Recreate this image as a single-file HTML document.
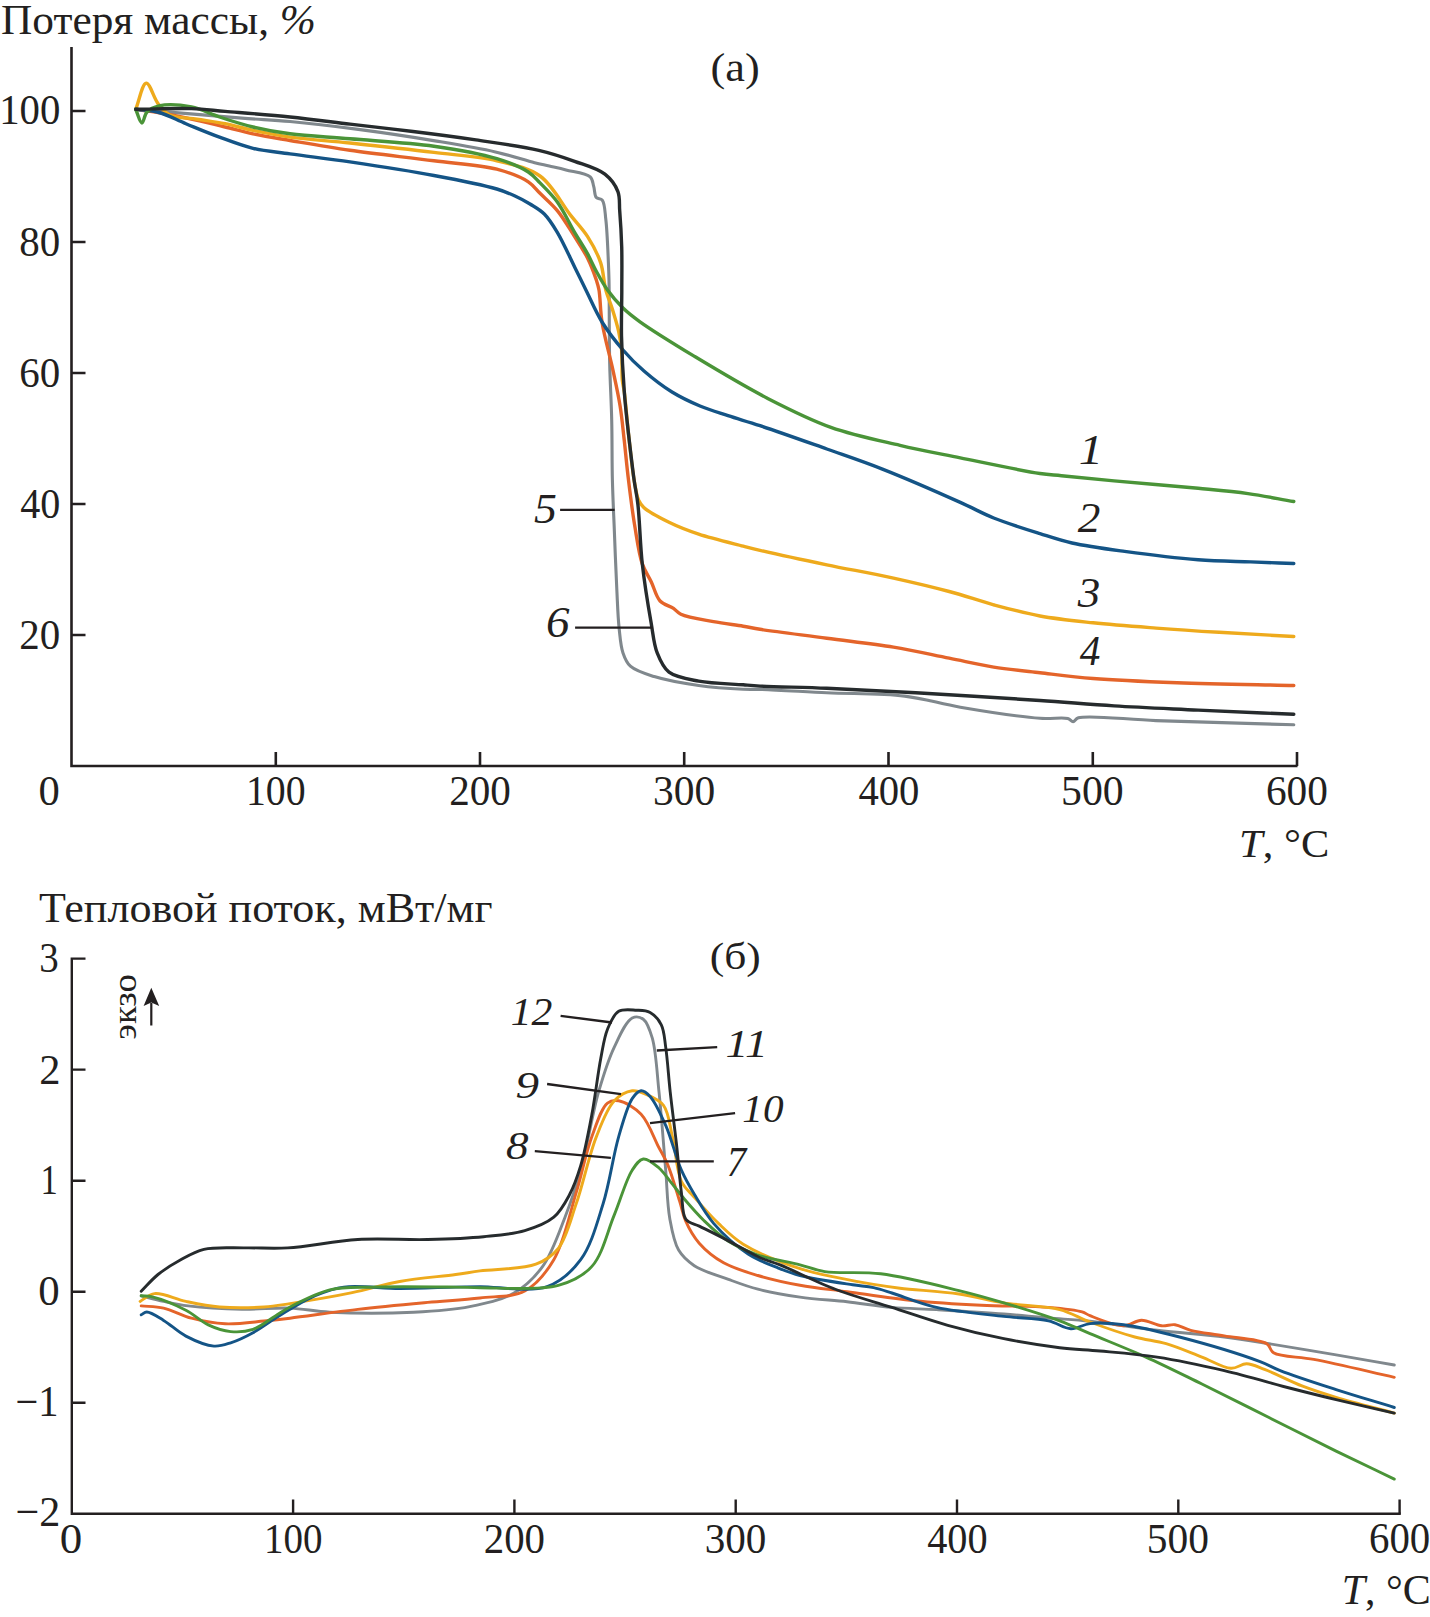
<!DOCTYPE html><html><head><meta charset="utf-8"><style>html,body{margin:0;padding:0;background:#fff;width:1430px;height:1617px;overflow:hidden}svg{display:block}</style></head><body>
<svg width="1430" height="1617" viewBox="0 0 1430 1617">
<rect width="1430" height="1617" fill="#fff"/>
<path d="M71.5,47 V766 H1297.5" fill="none" stroke="#231f20" stroke-width="2.6" stroke-linejoin="miter"/>
<path d="M71.5,111.0 H85.5 M71.5,242.0 H85.5 M71.5,373.0 H85.5 M71.5,504.0 H85.5 M71.5,635.0 H85.5 M275.8,766 V752 M480.0,766 V752 M684.2,766 V752 M888.5,766 V752 M1092.8,766 V752 M1297.0,766 V752 " fill="none" stroke="#231f20" stroke-width="2.6"/>
<path d="M85.5,958.6 H71.8 V1513.8 H1400.8" fill="none" stroke="#231f20" stroke-width="2.4" stroke-linejoin="miter"/>
<path d="M71.8,1069.6 H85.5 M71.8,1180.7 H85.5 M71.8,1291.7 H85.5 M71.8,1402.8 H85.5 M293.1,1513.8 V1499.5 M514.4,1513.8 V1499.5 M735.7,1513.8 V1499.5 M957.0,1513.8 V1499.5 M1178.3,1513.8 V1499.5 M1399.6,1513.8 V1499.5 " fill="none" stroke="#231f20" stroke-width="2.4"/>
<path d="M135.7,109.3 C171.1,112.2 213.4,115.9 241.9,118.1 C261.1,119.6 272.6,119.9 290.0,121.5 C310.8,123.4 334.8,126.3 358.3,129.4 C383.5,132.7 412.4,137.1 436.6,141.1 C457.6,144.6 477.9,147.9 495.4,151.9 C509.9,155.2 524.7,160.2 534.6,162.7 C540.7,164.2 544.2,164.9 549.3,166.1 C554.7,167.3 559.9,168.3 566.0,169.9 C573.3,171.8 585.9,172.8 590.2,176.8 C592.9,179.3 592.7,183.0 593.7,186.4 C594.8,190.0 594.4,195.3 596.3,197.6 C597.7,199.3 600.8,198.3 602.3,200.2 C604.9,203.5 604.9,211.6 605.8,219.3 C607.2,230.8 607.9,251.4 608.4,262.6 C608.7,269.7 608.8,272.0 609.0,280.0 C609.4,297.5 609.1,338.8 609.7,363.9 C610.2,384.5 611.3,400.9 611.7,419.9 C612.2,439.6 611.9,461.5 612.4,480.0 C612.8,495.9 613.4,508.2 614.1,524.5 C614.9,544.5 615.9,572.3 616.9,591.3 C617.6,605.4 617.9,617.0 619.1,628.0 C620.1,637.1 620.6,646.1 623.0,652.9 C624.8,658.2 626.4,662.5 630.4,666.2 C635.7,671.0 644.9,673.7 654.2,676.6 C666.6,680.5 683.8,683.4 698.7,685.5 C713.5,687.6 731.9,688.7 743.2,689.2 C750.1,689.5 752.5,689.2 760.0,689.4 C774.9,689.9 803.7,691.6 826.8,692.7 C851.8,693.9 881.0,693.2 904.7,696.1 C924.9,698.5 940.0,703.8 960.3,707.2 C984.4,711.3 1020.2,716.9 1040.0,718.3 C1051.6,719.1 1062.3,717.0 1067.8,718.5 C1070.4,719.2 1071.4,721.7 1073.1,721.6 C1074.9,721.5 1075.3,718.7 1078.4,717.8 C1088.9,714.6 1126.5,719.6 1156.1,720.6 C1195.5,721.9 1247.9,723.4 1293.8,724.8" fill="none" stroke="#80888d" stroke-width="3.1" stroke-linecap="round" stroke-linejoin="round"/>
<path d="M135.7,109.3 C143.1,110.4 149.6,111.1 158.0,112.5 C169.2,114.4 185.2,117.7 197.1,120.3 C207.2,122.5 215.8,124.7 225.1,127.0 C234.4,129.2 243.0,131.7 253.0,133.8 C264.4,136.2 276.2,138.1 290.0,140.5 C307.6,143.5 328.3,147.2 350.0,150.3 C375.6,154.0 408.0,157.4 433.9,160.8 C456.4,163.7 479.6,164.7 496.8,169.2 C509.3,172.5 520.7,176.8 528.3,181.8 C533.6,185.3 535.7,189.1 540.0,193.3 C545.2,198.5 551.8,203.9 557.3,210.6 C563.5,218.1 569.3,228.3 574.6,236.6 C579.3,244.1 583.9,250.8 587.6,258.2 C591.1,265.3 594.3,274.0 596.3,279.9 C597.6,283.9 598.2,285.6 599.0,290.0 C600.4,297.6 600.1,310.3 602.0,322.0 C604.3,336.6 609.9,355.9 613.1,370.9 C615.8,383.5 618.2,394.2 620.1,405.9 C622.0,417.5 622.9,428.8 624.3,440.8 C625.7,453.5 626.8,466.4 628.5,480.0 C630.3,494.9 632.4,512.1 634.9,526.8 C637.1,539.9 638.9,554.0 642.3,563.9 C644.8,571.1 648.3,575.6 651.2,581.7 C654.2,588.0 655.9,596.5 660.1,601.0 C663.7,604.8 669.8,605.9 673.5,608.4 C676.4,610.4 677.3,612.6 680.9,614.3 C687.7,617.6 702.9,619.7 713.5,621.7 C723.6,623.6 734.7,624.8 743.2,626.2 C749.6,627.3 752.5,628.1 760.0,629.3 C774.9,631.7 804.5,635.2 826.8,638.2 C849.0,641.2 872.3,643.6 893.5,647.1 C913.0,650.3 931.7,654.7 949.2,658.2 C964.9,661.3 978.7,664.7 993.7,667.1 C1008.9,669.5 1024.0,670.9 1040.0,672.7 C1057.1,674.7 1073.4,676.9 1093.1,678.5 C1117.9,680.5 1146.8,681.6 1177.1,682.7 C1212.8,684.0 1254.9,684.6 1293.8,685.5" fill="none" stroke="#e4642a" stroke-width="3.4" stroke-linecap="round" stroke-linejoin="round"/>
<path d="M135.7,109.3 C139.2,100.6 142.3,83.4 146.2,83.1 C149.8,82.8 153.7,98.0 158.0,103.6 C161.5,108.1 164.1,112.1 169.2,114.7 C176.0,118.2 187.8,117.7 197.1,119.2 C206.4,120.7 215.8,121.8 225.1,123.7 C234.4,125.6 243.0,128.3 253.0,130.4 C264.4,132.8 276.1,135.2 290.0,137.1 C307.6,139.5 328.3,140.7 350.0,143.0 C375.6,145.7 408.0,149.2 433.9,152.4 C456.4,155.2 478.0,156.3 496.8,160.8 C512.8,164.6 527.9,167.3 540.0,176.0 C552.6,185.0 561.6,203.8 570.3,214.9 C576.8,223.2 582.6,228.8 587.6,236.6 C592.7,244.6 597.6,253.6 600.6,262.6 C603.6,271.4 603.6,281.9 605.8,290.0 C607.6,296.7 610.0,301.6 612.0,308.0 C614.3,315.3 617.1,324.3 618.7,331.7 C620.1,338.1 621.0,343.1 621.6,350.0 C622.4,358.7 621.6,372.3 622.3,380.0 C622.8,384.9 623.6,386.8 624.3,392.0 C625.6,401.7 626.9,419.7 628.5,434.0 C630.2,449.0 632.0,467.9 634.1,480.0 C635.5,488.1 636.3,495.1 638.5,500.0 C640.0,503.3 641.0,504.9 643.8,507.5 C648.8,512.1 660.1,517.9 669.0,522.3 C678.3,526.9 687.7,530.5 698.7,534.2 C711.9,538.6 731.9,543.2 743.2,546.1 C750.1,547.9 752.5,548.6 760.0,550.3 C774.9,553.8 804.5,560.2 826.8,564.8 C849.0,569.4 872.3,573.4 893.5,578.1 C912.9,582.4 931.7,586.8 949.2,591.5 C964.9,595.7 978.7,600.7 993.7,604.8 C1008.9,608.9 1024.0,613.0 1040.0,616.0 C1057.0,619.1 1074.6,620.8 1093.1,622.8 C1113.2,624.9 1135.1,626.5 1156.1,628.1 C1177.1,629.7 1197.3,631.0 1219.2,632.3 C1243.0,633.8 1268.9,635.1 1293.8,636.5" fill="none" stroke="#eeaa1c" stroke-width="3.4" stroke-linecap="round" stroke-linejoin="round"/>
<path d="M135.7,109.3 C143.5,110.4 151.2,110.3 159.1,112.5 C167.9,114.9 176.4,119.8 185.9,123.7 C196.5,128.0 208.2,133.0 219.5,137.1 C230.6,141.2 241.4,145.5 253.0,148.3 C264.9,151.2 276.2,151.9 290.0,153.9 C307.6,156.4 328.4,158.7 350.0,161.9 C375.7,165.7 408.0,170.6 433.9,175.5 C456.4,179.7 482.2,184.7 496.8,189.0 C504.8,191.4 509.3,193.4 515.0,196.0 C520.3,198.4 525.1,201.0 530.0,204.0 C534.9,207.0 540.0,209.7 544.3,214.0 C549.2,218.9 552.9,225.0 557.3,232.3 C563.0,241.8 569.5,256.5 574.6,266.9 C578.8,275.4 581.8,281.7 585.9,290.0 C590.8,299.8 595.8,311.9 602.0,322.0 C608.2,331.9 615.7,341.6 623.0,350.0 C629.7,357.8 636.2,364.3 644.0,371.0 C652.4,378.3 662.4,386.1 672.0,392.0 C681.1,397.6 690.5,402.0 700.0,406.0 C709.2,409.9 718.3,412.5 728.0,415.7 C738.3,419.1 747.4,421.5 760.0,425.7 C778.3,431.7 805.6,441.5 826.8,449.0 C846.2,455.9 862.4,461.2 882.4,469.1 C906.3,478.5 939.8,493.2 960.3,502.4 C973.8,508.4 981.5,513.1 993.7,518.0 C1007.7,523.6 1025.9,529.2 1040.0,533.6 C1051.6,537.3 1059.9,540.3 1072.0,543.0 C1087.3,546.4 1105.6,548.8 1124.6,551.4 C1147.0,554.5 1175.7,558.1 1198.2,559.8 C1217.1,561.3 1234.1,561.3 1250.7,561.9 C1265.8,562.5 1279.4,563.0 1293.8,563.5" fill="none" stroke="#145486" stroke-width="3.4" stroke-linecap="round" stroke-linejoin="round"/>
<path d="M135.7,109.3 C137.8,113.9 139.9,123.0 141.9,123.0 C143.7,123.0 144.3,114.8 147.0,112.0 C149.9,109.0 153.8,107.0 159.0,105.8 C167.0,104.0 181.2,104.9 191.5,106.9 C201.3,108.8 209.7,113.8 219.5,117.0 C230.1,120.5 241.5,124.2 253.0,127.0 C265.0,129.9 276.1,132.0 290.0,133.8 C307.5,136.1 328.3,136.9 350.0,138.8 C375.6,141.0 408.0,142.5 433.9,146.2 C456.5,149.4 479.6,153.4 496.8,158.7 C509.3,162.5 520.6,167.0 528.3,172.0 C533.5,175.4 535.8,178.7 540.0,182.9 C545.3,188.3 551.9,194.6 557.3,202.0 C563.6,210.7 569.2,223.1 574.6,232.3 C579.2,240.1 583.8,247.0 587.6,253.9 C590.9,259.9 593.1,265.4 596.3,271.2 C599.7,277.4 603.2,284.0 607.5,290.0 C612.0,296.3 617.5,302.6 623.0,308.0 C628.3,313.2 632.5,316.4 640.0,321.8 C652.8,331.0 674.9,344.5 694.5,356.4 C716.9,369.9 743.6,386.0 767.3,398.2 C789.0,409.3 808.9,419.5 830.9,427.3 C853.1,435.2 877.7,440.1 900.0,445.3 C920.7,450.2 938.8,453.5 960.3,457.9 C985.0,462.9 1021.8,470.8 1040.0,473.5 C1049.4,474.9 1052.8,474.8 1061.5,475.7 C1075.2,477.1 1094.5,479.1 1114.1,480.9 C1138.9,483.2 1173.8,485.9 1198.2,488.3 C1217.0,490.1 1231.8,491.3 1248.0,493.6 C1263.6,495.8 1278.5,498.9 1293.8,501.5" fill="none" stroke="#4a9438" stroke-width="3.4" stroke-linecap="round" stroke-linejoin="round"/>
<path d="M135.7,109.3 C154.3,109.1 175.3,108.0 191.5,108.6 C204.1,109.0 212.1,110.3 225.1,111.4 C243.2,112.9 268.8,114.8 290.0,117.0 C310.4,119.1 329.8,121.7 350.0,124.1 C370.7,126.5 392.0,128.9 413.0,131.5 C434.0,134.1 455.0,136.8 475.9,139.9 C496.9,143.0 520.9,146.1 538.8,150.3 C552.5,153.5 563.3,157.2 574.6,161.3 C585.2,165.2 597.4,168.3 604.9,174.2 C611.0,179.0 615.5,185.3 617.9,191.6 C620.2,197.5 619.1,203.2 619.7,210.6 C620.5,220.7 621.3,234.2 621.7,246.8 C622.1,260.6 621.8,275.4 621.8,290.0 C621.8,305.1 621.2,319.9 621.5,336.0 C621.9,353.7 623.0,374.6 624.3,391.9 C625.4,406.9 626.9,419.5 628.5,433.8 C630.2,448.8 632.3,467.0 634.1,480.0 C635.4,489.5 636.8,494.5 637.9,504.5 C639.7,520.0 640.1,544.1 642.3,563.9 C644.5,583.7 648.3,606.8 651.2,623.2 C653.2,634.8 653.8,644.3 657.2,652.9 C660.1,660.3 663.0,667.6 669.0,672.2 C676.0,677.6 687.7,679.0 698.7,681.1 C711.9,683.6 731.9,683.9 743.2,684.8 C750.1,685.4 752.5,685.7 760.0,686.1 C774.9,686.9 802.9,687.3 826.8,688.3 C854.3,689.4 883.7,690.9 915.8,692.7 C953.8,694.8 1003.9,698.1 1040.0,700.5 C1067.9,702.4 1088.6,704.3 1114.1,705.9 C1141.2,707.6 1169.3,708.7 1198.2,710.1 C1229.0,711.5 1261.9,712.9 1293.8,714.3" fill="none" stroke="#262b2d" stroke-width="3.4" stroke-linecap="round" stroke-linejoin="round"/>
<path d="M141.2,1295.8 C148.7,1297.7 155.9,1299.7 163.6,1301.4 C171.6,1303.1 178.4,1304.7 188.2,1305.9 C202.6,1307.7 224.5,1308.9 241.9,1309.2 C258.4,1309.5 274.7,1307.5 290.0,1308.1 C303.9,1308.7 314.1,1311.4 329.8,1312.2 C352.6,1313.4 388.6,1313.5 413.7,1312.2 C434.3,1311.2 452.3,1310.1 469.7,1306.6 C485.4,1303.5 501.1,1300.4 513.6,1293.3 C525.2,1286.7 534.5,1277.7 542.7,1266.4 C552.2,1253.2 558.6,1233.6 565.0,1217.2 C571.2,1201.5 575.7,1188.0 580.7,1170.2 C587.1,1147.5 592.2,1114.2 598.6,1091.9 C603.6,1074.7 608.1,1060.1 614.3,1047.1 C619.6,1036.0 625.9,1021.1 632.2,1018.0 C635.8,1016.2 640.2,1017.0 643.3,1019.2 C647.5,1022.2 649.9,1030.0 652.3,1038.2 C656.1,1051.3 656.9,1072.3 659.0,1091.9 C661.5,1115.5 663.7,1147.2 665.7,1170.2 C667.2,1188.3 667.2,1204.4 669.8,1218.7 C671.9,1230.4 673.8,1241.9 678.6,1250.1 C682.6,1256.8 687.5,1261.2 694.3,1265.7 C703.1,1271.5 717.5,1275.4 728.5,1279.4 C738.6,1283.1 747.1,1286.4 757.9,1289.2 C770.6,1292.5 785.5,1295.0 800.0,1297.1 C815.2,1299.3 831.6,1300.1 847.1,1301.8 C862.2,1303.5 877.0,1306.1 891.9,1307.4 C906.8,1308.7 920.2,1308.7 936.6,1309.6 C956.7,1310.8 983.7,1312.4 1003.8,1314.0 C1020.2,1315.3 1033.9,1316.8 1048.5,1318.0 C1062.6,1319.2 1074.5,1319.6 1090.0,1321.3 C1109.7,1323.4 1134.7,1327.7 1157.1,1330.3 C1179.5,1332.9 1204.2,1334.5 1224.3,1337.0 C1240.7,1339.1 1252.6,1341.1 1269.0,1343.7 C1289.1,1346.9 1314.5,1351.2 1336.1,1354.9 C1356.2,1358.3 1374.9,1361.6 1394.3,1365.0" fill="none" stroke="#80888d" stroke-width="2.9" stroke-linecap="round" stroke-linejoin="round"/>
<path d="M141.2,1305.9 C148.7,1306.6 155.8,1306.3 163.6,1308.1 C172.5,1310.1 181.6,1315.6 191.5,1318.2 C202.1,1321.0 213.4,1323.3 225.1,1323.8 C237.6,1324.4 252.5,1322.1 264.2,1321.0 C273.7,1320.1 279.4,1319.5 290.0,1318.2 C307.3,1316.1 335.0,1312.0 357.8,1309.4 C380.9,1306.7 406.1,1304.4 427.7,1302.4 C446.4,1300.7 463.3,1300.0 480.0,1298.0 C495.5,1296.1 512.4,1297.6 524.8,1291.0 C536.8,1284.6 545.8,1273.2 553.8,1259.7 C564.1,1242.4 569.6,1214.0 576.2,1192.6 C582.2,1173.2 585.9,1152.7 591.9,1136.6 C596.6,1123.8 601.3,1108.0 607.5,1103.1 C610.9,1100.4 614.5,1100.1 618.7,1100.8 C625.1,1101.9 634.8,1107.6 641.1,1114.3 C648.7,1122.3 654.1,1138.5 659.0,1147.8 C662.5,1154.4 664.9,1158.0 667.8,1164.9 C671.8,1174.6 676.4,1190.9 679.6,1201.1 C682.0,1208.6 682.6,1214.1 685.5,1220.7 C688.8,1228.2 693.2,1236.4 699.2,1243.2 C705.7,1250.6 714.3,1257.5 723.6,1262.8 C733.7,1268.5 745.8,1271.9 757.9,1275.5 C771.1,1279.5 785.5,1282.6 800.0,1285.3 C815.2,1288.1 830.0,1289.4 847.1,1291.7 C867.5,1294.5 891.9,1298.4 914.3,1300.7 C936.6,1302.9 959.0,1304.1 981.4,1305.2 C1003.8,1306.3 1030.0,1305.9 1048.5,1307.4 C1061.6,1308.5 1074.9,1309.7 1082.1,1311.9 C1085.8,1313.0 1086.4,1314.3 1090.0,1315.7 C1097.2,1318.5 1114.2,1325.9 1123.6,1325.8 C1130.5,1325.8 1135.3,1320.3 1141.5,1320.2 C1148.0,1320.1 1155.5,1325.2 1161.6,1325.8 C1166.5,1326.3 1170.4,1324.1 1175.0,1324.7 C1180.1,1325.4 1184.4,1328.7 1190.7,1330.3 C1199.7,1332.6 1212.5,1333.8 1224.3,1335.9 C1237.6,1338.2 1259.1,1338.9 1266.8,1343.7 C1270.7,1346.1 1269.6,1350.3 1273.5,1352.7 C1280.9,1357.2 1298.1,1356.4 1313.8,1359.4 C1336.1,1363.7 1367.5,1371.3 1394.3,1377.3" fill="none" stroke="#e4642a" stroke-width="2.9" stroke-linecap="round" stroke-linejoin="round"/>
<path d="M140.1,1301.4 C144.9,1298.8 148.7,1294.3 154.6,1293.6 C162.9,1292.6 175.2,1299.2 185.9,1301.4 C196.9,1303.7 207.5,1306.0 219.5,1307.0 C233.3,1308.1 251.4,1307.8 264.2,1307.0 C274.0,1306.4 279.6,1305.2 290.0,1303.6 C306.3,1301.1 332.9,1296.7 352.2,1292.7 C369.2,1289.2 383.1,1284.5 399.7,1281.5 C417.5,1278.3 440.9,1276.5 455.7,1274.5 C465.5,1273.2 470.2,1272.2 480.0,1270.9 C494.8,1268.9 521.9,1269.5 535.9,1264.2 C545.6,1260.5 552.1,1256.3 558.3,1248.5 C566.5,1238.1 570.4,1220.4 576.2,1203.8 C583.2,1183.8 589.0,1155.2 596.4,1136.6 C602.0,1122.5 607.0,1108.5 614.3,1100.8 C619.6,1095.3 626.5,1091.6 632.2,1090.8 C636.9,1090.2 641.0,1092.1 645.6,1094.1 C651.3,1096.5 659.1,1099.5 663.5,1105.3 C668.9,1112.5 669.6,1125.2 672.4,1136.6 C675.7,1150.1 676.3,1170.7 681.4,1181.4 C684.8,1188.6 689.2,1191.3 694.3,1197.2 C701.1,1205.0 710.3,1215.6 718.7,1223.6 C726.6,1231.2 732.8,1237.7 743.2,1244.2 C757.7,1253.2 782.5,1262.9 800.0,1268.7 C814.3,1273.4 827.2,1275.4 840.0,1278.1 C851.7,1280.6 863.1,1282.7 873.6,1284.4 C882.9,1285.9 889.4,1286.9 900.0,1288.2 C915.7,1290.1 940.7,1291.3 959.0,1294.0 C975.0,1296.4 988.0,1300.4 1003.8,1302.9 C1021.4,1305.7 1044.1,1305.6 1059.7,1309.6 C1071.6,1312.7 1078.8,1317.9 1090.0,1322.0 C1103.4,1327.0 1121.1,1333.3 1134.8,1337.0 C1146.1,1340.1 1155.4,1340.6 1166.1,1343.7 C1177.8,1347.1 1190.6,1352.8 1201.9,1357.1 C1212.1,1361.0 1222.7,1367.9 1231.0,1368.3 C1237.0,1368.6 1241.2,1363.7 1246.6,1363.8 C1252.4,1363.9 1257.5,1366.8 1264.5,1369.4 C1274.9,1373.3 1290.2,1381.4 1302.6,1386.2 C1314.0,1390.6 1323.3,1393.5 1336.1,1397.4 C1352.8,1402.4 1374.9,1407.9 1394.3,1413.1" fill="none" stroke="#eeaa1c" stroke-width="2.9" stroke-linecap="round" stroke-linejoin="round"/>
<path d="M141.2,1314.8 C143.1,1313.9 144.4,1312.0 146.8,1312.0 C150.9,1312.0 157.7,1316.9 163.6,1320.4 C170.7,1324.6 177.7,1331.9 185.9,1336.1 C194.4,1340.5 205.7,1345.5 213.9,1346.1 C220.1,1346.6 224.8,1344.7 230.7,1342.8 C237.7,1340.6 245.7,1336.7 253.0,1332.7 C260.6,1328.5 268.7,1322.4 275.4,1318.2 C280.8,1314.8 284.4,1312.4 290.0,1309.2 C297.3,1305.0 306.8,1299.2 315.8,1295.5 C324.8,1291.8 332.7,1288.6 343.8,1287.1 C359.1,1285.0 381.1,1288.5 399.7,1288.5 C418.4,1288.5 440.9,1287.4 455.7,1287.1 C465.5,1286.9 469.9,1286.7 480.0,1286.6 C496.8,1286.4 529.4,1292.8 547.1,1286.6 C561.3,1281.6 571.7,1271.8 580.7,1259.7 C591.3,1245.4 596.9,1223.5 603.1,1203.8 C609.7,1182.7 613.1,1155.7 618.7,1136.6 C623.0,1122.0 627.1,1106.2 632.2,1098.6 C635.0,1094.5 638.0,1091.1 641.1,1090.8 C644.0,1090.6 647.1,1093.2 650.1,1096.4 C655.4,1102.0 660.9,1114.5 665.7,1125.4 C671.5,1138.5 675.9,1157.7 681.4,1170.2 C685.6,1179.7 689.3,1186.0 694.3,1194.3 C699.9,1203.7 705.7,1214.2 713.8,1223.6 C723.1,1234.3 736.5,1246.4 748.1,1254.0 C757.8,1260.4 768.3,1264.0 777.5,1267.7 C785.4,1270.9 790.8,1273.1 800.0,1275.5 C813.8,1279.1 839.0,1282.7 852.6,1284.8 C861.2,1286.1 866.9,1286.3 873.6,1287.7 C880.0,1289.1 884.5,1290.7 891.9,1293.0 C903.5,1296.6 920.0,1303.6 936.6,1307.4 C956.5,1311.9 983.7,1314.1 1003.8,1316.4 C1020.2,1318.3 1036.3,1318.1 1048.5,1320.8 C1057.4,1322.8 1063.7,1328.4 1070.9,1328.7 C1077.5,1329.0 1082.7,1324.4 1090.0,1323.6 C1099.6,1322.5 1111.1,1323.1 1123.6,1324.7 C1140.0,1326.7 1159.3,1331.7 1179.5,1337.0 C1204.0,1343.4 1242.3,1354.9 1260.1,1361.6 C1269.2,1365.0 1271.7,1367.3 1280.2,1370.6 C1294.1,1376.1 1317.2,1383.5 1336.1,1389.6 C1355.3,1395.8 1374.9,1401.5 1394.3,1407.5" fill="none" stroke="#145486" stroke-width="2.9" stroke-linecap="round" stroke-linejoin="round"/>
<path d="M141.2,1295.8 C144.9,1296.2 147.8,1295.8 152.4,1296.9 C160.7,1298.9 176.1,1305.2 185.9,1310.3 C194.4,1314.7 200.6,1321.3 208.3,1324.9 C215.5,1328.3 223.2,1330.9 230.7,1331.6 C238.1,1332.3 245.8,1331.8 253.0,1329.4 C260.8,1326.8 268.7,1319.9 275.4,1315.9 C280.8,1312.6 283.8,1310.2 290.0,1307.0 C299.9,1301.9 316.1,1293.2 329.8,1289.9 C343.3,1286.6 355.3,1287.6 371.7,1287.1 C394.9,1286.3 436.1,1286.9 455.7,1287.1 C466.2,1287.2 469.6,1287.7 480.0,1287.7 C498.7,1287.7 538.2,1291.0 558.3,1285.4 C572.4,1281.5 583.0,1276.3 591.9,1266.4 C602.7,1254.4 607.4,1231.5 614.3,1214.9 C620.7,1199.5 625.9,1179.8 632.2,1170.2 C635.8,1164.7 639.0,1159.6 643.3,1159.0 C647.9,1158.4 654.5,1164.2 659.0,1168.0 C663.4,1171.7 666.3,1176.6 670.2,1181.4 C674.7,1186.9 679.3,1193.1 684.5,1199.2 C690.4,1206.1 697.0,1213.8 704.1,1220.7 C711.6,1227.9 719.6,1235.6 728.5,1241.3 C737.5,1247.0 747.0,1251.2 757.9,1255.0 C770.5,1259.3 787.8,1261.7 800.0,1264.8 C809.4,1267.2 814.8,1270.0 824.8,1271.6 C839.6,1273.9 860.6,1271.3 880.7,1273.8 C904.7,1276.8 936.6,1285.1 959.0,1290.6 C976.1,1294.8 988.1,1298.2 1003.8,1302.9 C1021.5,1308.1 1044.0,1315.0 1059.7,1320.8 C1071.4,1325.2 1078.4,1328.7 1090.0,1333.6 C1105.8,1340.3 1127.4,1348.8 1145.9,1357.1 C1164.7,1365.5 1182.4,1374.5 1201.9,1384.0 C1223.3,1394.5 1246.6,1406.3 1269.0,1417.5 C1291.4,1428.7 1314.5,1440.5 1336.1,1451.1 C1356.1,1460.9 1374.9,1469.8 1394.3,1479.1" fill="none" stroke="#4a9438" stroke-width="2.9" stroke-linecap="round" stroke-linejoin="round"/>
<path d="M141.2,1291.3 C146.8,1285.7 151.7,1279.6 158.0,1274.5 C164.7,1269.1 172.6,1264.2 180.3,1260.0 C187.9,1255.8 194.7,1251.5 203.9,1249.3 C215.7,1246.6 231.9,1248.1 245.9,1247.9 C259.9,1247.7 272.1,1248.8 287.8,1247.9 C308.2,1246.7 334.4,1240.9 357.8,1239.5 C381.1,1238.1 405.7,1240.1 427.7,1239.5 C447.4,1239.0 466.4,1238.4 483.6,1236.7 C498.4,1235.2 512.5,1234.3 524.8,1230.6 C535.6,1227.4 546.2,1223.5 553.8,1217.2 C560.8,1211.3 565.1,1203.0 569.5,1194.8 C574.2,1186.0 577.3,1176.9 580.7,1165.7 C585.1,1151.1 588.6,1131.8 591.9,1114.3 C595.3,1096.1 597.8,1073.9 600.8,1058.3 C603.0,1047.0 604.1,1037.5 607.5,1029.2 C610.4,1022.2 613.5,1014.4 618.7,1011.3 C623.5,1008.5 631.1,1009.9 636.6,1010.2 C641.4,1010.4 646.1,1010.2 650.1,1012.4 C654.5,1014.8 658.7,1019.6 661.3,1024.8 C664.3,1030.8 664.4,1038.3 665.7,1047.1 C667.5,1059.4 668.5,1076.1 670.2,1091.9 C672.1,1109.5 675.0,1130.2 676.9,1147.8 C678.6,1163.6 679.7,1179.6 681.4,1192.6 C682.8,1202.7 681.8,1213.9 685.9,1219.4 C688.9,1223.5 694.1,1223.5 699.3,1226.1 C706.7,1229.8 716.7,1234.7 726.1,1239.6 C736.7,1245.1 749.8,1253.1 759.7,1257.5 C767.2,1260.8 771.6,1261.5 780.0,1264.9 C794.1,1270.6 817.1,1282.4 835.9,1289.5 C854.4,1296.5 873.2,1301.4 891.9,1307.4 C910.5,1313.4 929.1,1320.1 947.8,1325.3 C966.4,1330.5 985.1,1335.0 1003.8,1338.7 C1022.4,1342.4 1042.6,1345.6 1059.7,1347.7 C1074.2,1349.5 1085.4,1349.6 1100.0,1351.0 C1117.4,1352.6 1137.4,1354.1 1157.1,1357.1 C1178.7,1360.4 1202.0,1365.4 1224.3,1370.6 C1246.8,1375.8 1271.3,1383.3 1291.4,1388.5 C1307.8,1392.7 1320.2,1395.8 1336.1,1399.6 C1354.2,1403.9 1374.9,1408.6 1394.3,1413.1" fill="none" stroke="#262b2d" stroke-width="2.9" stroke-linecap="round" stroke-linejoin="round"/>
<path d="M560.1,509.8 L614.6,509.8 M575.1,627.6 L652.7,627.6 M560.6,1015.8 L612,1022.5 M656.8,1050.5 L717.2,1047.1 M547.1,1084 L621,1094.1 M650,1123.2 L735.1,1113.1 M534.8,1151.2 L610.9,1157.9 M650,1161.3 L713.8,1161.3 " fill="none" stroke="#231f20" stroke-width="2.3"/>
<path d="M151.3,1025.5 V1003" stroke="#231f20" stroke-width="2.2" fill="none"/>
<path d="M151.3,987.7 L159.2,1006 L151.3,1002.5 L143.6,1006 Z" fill="#231f20"/>
<text transform="translate(1.00,34.20) scale(0.4338,0.4200)" font-family="Liberation Serif" font-size="100" fill="#231f20">Потеря массы, <tspan font-style="italic">%</tspan></text>
<text transform="translate(710.53,80.86) scale(0.4437,0.3922)" font-family="Liberation Serif" font-size="100" fill="#231f20">(а)</text>
<text transform="translate(-0.87,123.98) scale(0.4080,0.4118)" font-family="Liberation Serif" font-size="100" fill="#231f20">100</text>
<text transform="translate(19.36,256.16) scale(0.4098,0.4179)" font-family="Liberation Serif" font-size="100" fill="#231f20">80</text>
<text transform="translate(19.36,387.16) scale(0.4098,0.4179)" font-family="Liberation Serif" font-size="100" fill="#231f20">60</text>
<text transform="translate(20.20,518.16) scale(0.4011,0.4179)" font-family="Liberation Serif" font-size="100" fill="#231f20">40</text>
<text transform="translate(19.36,649.16) scale(0.4098,0.4179)" font-family="Liberation Serif" font-size="100" fill="#231f20">20</text>
<text transform="translate(38.40,805.16) scale(0.4262,0.4179)" font-family="Liberation Serif" font-size="100" fill="#231f20">0</text>
<text transform="translate(245.92,805.18) scale(0.3978,0.4118)" font-family="Liberation Serif" font-size="100" fill="#231f20">100</text>
<text transform="translate(449.15,805.16) scale(0.4113,0.4179)" font-family="Liberation Serif" font-size="100" fill="#231f20">200</text>
<text transform="translate(652.93,805.16) scale(0.4149,0.4179)" font-family="Liberation Serif" font-size="100" fill="#231f20">300</text>
<text transform="translate(858.39,805.16) scale(0.4069,0.4179)" font-family="Liberation Serif" font-size="100" fill="#231f20">400</text>
<text transform="translate(1060.99,805.16) scale(0.4179,0.4179)" font-family="Liberation Serif" font-size="100" fill="#231f20">500</text>
<text transform="translate(1265.95,805.16) scale(0.4134,0.4179)" font-family="Liberation Serif" font-size="100" fill="#231f20">600</text>
<text transform="translate(1239.03,857.40) scale(0.4250,0.4106)" font-family="Liberation Serif" font-size="100" fill="#231f20"><tspan font-style="italic">T</tspan>, °C</text>
<text transform="translate(1078.66,463.80) scale(0.4857,0.4212)" font-family="Liberation Serif" font-size="100" fill="#231f20"><tspan font-style="italic">1</tspan></text>
<text transform="translate(1077.80,532.30) scale(0.4521,0.4200)" font-family="Liberation Serif" font-size="100" fill="#231f20"><tspan font-style="italic">2</tspan></text>
<text transform="translate(1077.80,606.58) scale(0.4500,0.4167)" font-family="Liberation Serif" font-size="100" fill="#231f20"><tspan font-style="italic">3</tspan></text>
<text transform="translate(1079.70,664.50) scale(0.4125,0.4215)" font-family="Liberation Serif" font-size="100" fill="#231f20"><tspan font-style="italic">4</tspan></text>
<text transform="translate(534.08,522.97) scale(0.4578,0.4303)" font-family="Liberation Serif" font-size="100" fill="#231f20"><tspan font-style="italic">5</tspan></text>
<text transform="translate(545.92,637.23) scale(0.4711,0.4328)" font-family="Liberation Serif" font-size="100" fill="#231f20"><tspan font-style="italic">6</tspan></text>
<text transform="translate(39.02,922.00) scale(0.4408,0.4118)" font-family="Liberation Serif" font-size="100" fill="#231f20">Тепловой поток, мВт/мг</text>
<text transform="translate(709.76,968.94) scale(0.4349,0.3837)" font-family="Liberation Serif" font-size="100" fill="#231f20">(б)</text>
<text transform="translate(39.35,971.88) scale(0.3902,0.4242)" font-family="Liberation Serif" font-size="100" fill="#231f20">3</text>
<text transform="translate(39.30,1083.50) scale(0.4250,0.4308)" font-family="Liberation Serif" font-size="100" fill="#231f20">2</text>
<text transform="translate(40.49,1194.20) scale(0.3457,0.4303)" font-family="Liberation Serif" font-size="100" fill="#231f20">1</text>
<text transform="translate(38.29,1304.76) scale(0.4286,0.4179)" font-family="Liberation Serif" font-size="100" fill="#231f20">0</text>
<text transform="translate(15.47,1416.40) scale(0.4053,0.4348)" font-family="Liberation Serif" font-size="100" fill="#231f20">−1</text>
<text transform="translate(15.39,1526.20) scale(0.4219,0.4308)" font-family="Liberation Serif" font-size="100" fill="#231f20">−2</text>
<text transform="translate(59.70,1553.27) scale(0.4500,0.4164)" font-family="Liberation Serif" font-size="100" fill="#231f20">0</text>
<text transform="translate(264.09,1553.08) scale(0.3905,0.4118)" font-family="Liberation Serif" font-size="100" fill="#231f20">100</text>
<text transform="translate(483.77,1553.06) scale(0.4085,0.4179)" font-family="Liberation Serif" font-size="100" fill="#231f20">200</text>
<text transform="translate(704.64,1553.06) scale(0.4113,0.4179)" font-family="Liberation Serif" font-size="100" fill="#231f20">300</text>
<text transform="translate(927.19,1553.06) scale(0.4028,0.4179)" font-family="Liberation Serif" font-size="100" fill="#231f20">400</text>
<text transform="translate(1146.81,1553.06) scale(0.4143,0.4179)" font-family="Liberation Serif" font-size="100" fill="#231f20">500</text>
<text transform="translate(1368.97,1553.42) scale(0.4085,0.4388)" font-family="Liberation Serif" font-size="100" fill="#231f20">600</text>
<text transform="translate(1341.76,1603.90) scale(0.4195,0.4136)" font-family="Liberation Serif" font-size="100" fill="#231f20"><tspan font-style="italic">T</tspan>, °C</text>
<text transform="translate(510.73,1024.80) scale(0.4170,0.4076)" font-family="Liberation Serif" font-size="100" fill="#231f20"><tspan font-style="italic">12</tspan></text>
<text transform="translate(725.47,1057.20) scale(0.4577,0.4076)" font-family="Liberation Serif" font-size="100" fill="#231f20"><tspan font-style="italic">11</tspan></text>
<text transform="translate(515.59,1098.21) scale(0.4711,0.3894)" font-family="Liberation Serif" font-size="100" fill="#231f20"><tspan font-style="italic">9</tspan></text>
<text transform="translate(742.35,1122.41) scale(0.4126,0.3941)" font-family="Liberation Serif" font-size="100" fill="#231f20"><tspan font-style="italic">10</tspan></text>
<text transform="translate(506.00,1159.30) scale(0.4511,0.4000)" font-family="Liberation Serif" font-size="100" fill="#231f20"><tspan font-style="italic">8</tspan></text>
<text transform="translate(726.78,1175.80) scale(0.3891,0.4308)" font-family="Liberation Serif" font-size="100" fill="#231f20"><tspan font-style="italic">7</tspan></text>
<text transform="translate(136.06,1039.80) rotate(-90) scale(0.3657,0.3354)" font-family="Liberation Serif" font-size="100" fill="#231f20">экзо</text>
</svg></body></html>
